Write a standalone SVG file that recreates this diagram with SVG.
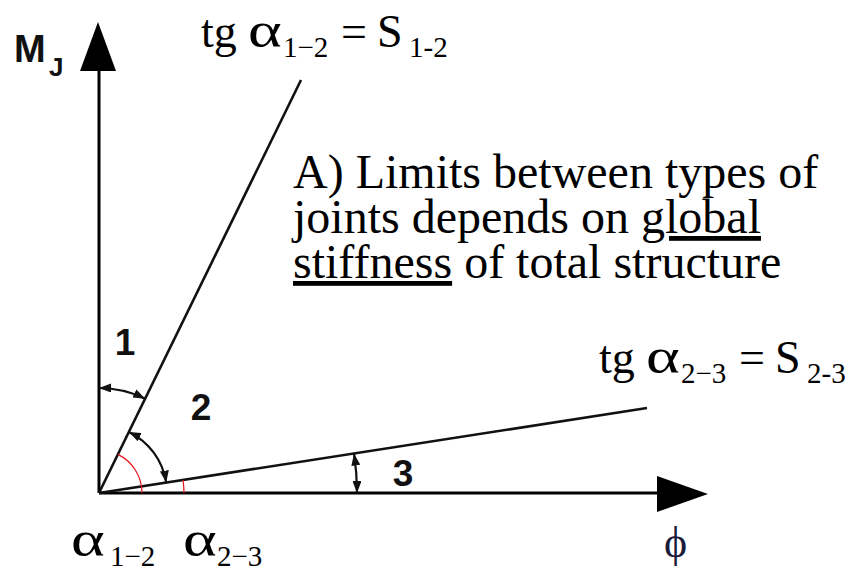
<svg xmlns="http://www.w3.org/2000/svg" width="852" height="570" viewBox="0 0 852 570">
<style>
.ax{stroke:#000;stroke-width:3;fill:none}
.ln{stroke:#111;stroke-width:2.6;fill:none}
.arc{stroke:#111;stroke-width:2.2;fill:none;marker-start:url(#ah);marker-end:url(#ah)}
.red{stroke:#e8141b;stroke-width:1.2;fill:none}
.num{font-family:"Liberation Sans",Arial,sans-serif;font-weight:bold;font-size:37px;fill:#111}
.ser{font-family:"Liberation Serif","Times New Roman",serif;fill:#000}
.al{font-family:"Liberation Serif","Times New Roman",serif;font-size:46px;fill:#000}
.sb{font-size:29px}
</style>
<defs>
<marker id="ah" viewBox="0 0 12 9" refX="12" refY="4.5" markerWidth="12" markerHeight="9" markerUnits="userSpaceOnUse" orient="auto-start-reverse">
<path d="M0,0 L12,4.5 L0,9 z" fill="#111"/>
</marker>
</defs>
<rect width="852" height="570" fill="#fff"/>
<g id="axes">
<line class="ax" x1="99" y1="493" x2="99" y2="68"/>
<polygon points="98,22 80,71 116,71" fill="#000"/>
<line class="ax" x1="99" y1="493" x2="660" y2="493"/>
<polygon points="708,494 657,476 657,512" fill="#000"/>
</g>
<g id="connectors">
<line class="ln" x1="99" y1="493" x2="301" y2="80"/>
<line class="ln" x1="99" y1="493" x2="647" y2="408"/>
<path class="arc" d="M99,388 A105,105 0 0 1 145.2,398.7"/>
<path class="arc" d="M128.9,431.9 A68,68 0 0 1 166.2,482.6"/>
<path class="arc" d="M354,453.5 A258,258 0 0 1 357,493"/>
<path class="red" d="M117.9,454.4 A43,43 0 0 1 142,493"/>
<path class="red" d="M183,480 A85,85 0 0 1 184,493"/>
</g>
<g id="label-MJ">
<text x="14" y="62" style="font-family:'Liberation Sans',Arial,sans-serif;font-weight:bold;font-size:38px;fill:#111">M</text>
<text x="49" y="76" style="font-family:'Liberation Sans',Arial,sans-serif;font-weight:bold;font-size:26px;fill:#111">J</text>
</g>
<g id="label-phi">
<text x="664" y="557" class="ser" style="font-size:44px;fill:#1a1a3a">ϕ</text>
</g>
<g id="zones">
<text class="num" x="125" y="355" text-anchor="middle">1</text>
<text class="num" x="201" y="420" text-anchor="middle">2</text>
<text class="num" x="403" y="486" text-anchor="middle">3</text>
</g>
<g id="label-S12" class="ser">
<text y="47" style="font-size:46px"><tspan x="201">tg</tspan><tspan x="283" y="57" class="sb">1−2</tspan><tspan x="341" y="47">=</tspan><tspan x="377">S</tspan><tspan x="409" y="57" class="sb">1-2</tspan></text>
<text class="al" transform="translate(248,47) scale(1.4,1.1)">α</text>
</g>
<g id="label-S23" class="ser">
<text y="373" style="font-size:46px"><tspan x="599">tg</tspan><tspan x="681" y="383" class="sb">2−3</tspan><tspan x="739" y="373">=</tspan><tspan x="775">S</tspan><tspan x="807" y="383" class="sb">2-3</tspan></text>
<text class="al" transform="translate(646,373) scale(1.4,1.1)">α</text>
</g>
<g id="label-alpha" class="ser">
<text class="al" transform="translate(71,556) scale(1.4,1.1)">α</text>
<text x="110" y="566" class="sb">1−2</text>
<text class="al" transform="translate(183,556) scale(1.4,1.1)">α</text>
<text x="217" y="566" class="sb">2−3</text>
</g>
<g id="note" class="ser" style="font-size:48px">
<text x="293" y="188">A) Limits between types of</text>
<text x="293" y="233">joints depends on <tspan text-decoration="underline">global</tspan></text>
<text x="293" y="278"><tspan text-decoration="underline">stiffness</tspan> of total structure</text>
</g>
</svg>
